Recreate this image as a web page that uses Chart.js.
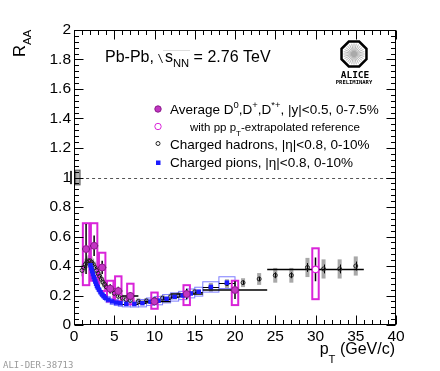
<!DOCTYPE html>
<html>
<head>
<meta charset="utf-8">
<script src="https://cdn.jsdelivr.net/npm/chart.js@4.4.1/dist/chart.umd.min.js"></script>
<style>
html, body { margin: 0; padding: 0; background: #fff; }
#wrap { width: 440px; height: 371px; position: relative; }
</style>
</head>
<body>
<div id="wrap"><canvas id="raaChart" width="440" height="371"></canvas></div>
<script>
// Average D mesons (0-7.5%), bin edges + stat + syst box
const dPt    = [1.5, 2.5, 3.5, 4.5, 5.5, 7, 10, 14, 20];
const dLo    = [1, 2, 3, 4, 5, 6, 8, 12, 16];
const dHi    = [2, 3, 4, 5, 6, 8, 12, 16, 24];
const dR     = [0.515, 0.537, 0.39, 0.246, 0.23, 0.197, 0.16, 0.21, 0.237];
const dStat  = [0.17, 0.07, 0.045, 0.03, 0.03, 0.025, 0.02, 0.035, 0.06];
const dSysLo = [0.27, 0.30, 0.23, 0.16, 0.16, 0.14, 0.11, 0.135, 0.135];
const dSysHi = [0.69, 0.69, 0.49, 0.30, 0.33, 0.28, 0.22, 0.27, 0.30];

// D mesons with pT-extrapolated pp reference
const dxPt    = [30];
const dxLo    = [24];
const dxHi    = [36];
const dxR     = [0.377];
const dxStat  = [0.08];
const dxSysLo = [0.175];
const dxSysHi = [0.52];

// Charged hadrons (0-10%)
const hPt   = [1.0, 1.2, 1.4, 1.6, 1.8, 2.0, 2.2, 2.4, 2.6, 2.8, 3.0, 3.2, 3.4, 3.6, 3.8, 4.0, 4.5, 5.0, 5.5, 6.0,
               6.5, 7.0, 8.0, 9.0, 10, 11, 12, 13, 14, 15, 17, 19, 21, 23, 25, 27, 29, 31, 33, 35];
const hR    = [0.37, 0.39, 0.41, 0.425, 0.435, 0.435, 0.425, 0.41, 0.39, 0.37, 0.35, 0.33, 0.31, 0.29, 0.275, 0.26, 0.235, 0.215, 0.195, 0.182,
               0.172, 0.166, 0.16, 0.163, 0.172, 0.182, 0.192, 0.202, 0.213, 0.225, 0.255, 0.28, 0.287, 0.312, 0.337, 0.337, 0.39, 0.38, 0.38, 0.40];
const hStat = [0.005, 0.005, 0.005, 0.005, 0.005, 0.005, 0.005, 0.005, 0.005, 0.005, 0.005, 0.005, 0.005, 0.005, 0.005, 0.005, 0.005, 0.005, 0.005, 0.005,
               0.005, 0.005, 0.006, 0.006, 0.007, 0.008, 0.008, 0.009, 0.01, 0.01, 0.012, 0.014, 0.015, 0.015, 0.02, 0.02, 0.03, 0.03, 0.03, 0.03];
const hSys  = [0.04, 0.04, 0.04, 0.04, 0.04, 0.04, 0.04, 0.04, 0.04, 0.04, 0.04, 0.035, 0.035, 0.035, 0.035, 0.03, 0.025, 0.025, 0.025, 0.025,
               0.025, 0.025, 0.02, 0.02, 0.02, 0.02, 0.02, 0.02, 0.02, 0.02, 0.03, 0.03, 0.03, 0.04, 0.05, 0.05, 0.065, 0.065, 0.065, 0.065];

// Charged pions (0-10%)
const piPt   = [2.05, 2.15, 2.25, 2.35, 2.45, 2.55, 2.65, 2.75, 2.85, 2.95, 3.1, 3.3, 3.5, 3.7, 3.9, 4.25, 4.75, 5.25, 5.75, 6.5,
                7.5, 8.5, 9.5, 10.5, 11.5, 12.5, 13.5, 14.5, 15.5, 17, 19];
const piHalf = [0.05, 0.05, 0.05, 0.05, 0.05, 0.05, 0.05, 0.05, 0.05, 0.05, 0.1, 0.1, 0.1, 0.1, 0.1, 0.25, 0.25, 0.25, 0.25, 0.5,
                0.5, 0.5, 0.5, 0.5, 0.5, 0.5, 0.5, 0.5, 0.5, 1, 1];
const piR    = [0.405, 0.385, 0.365, 0.345, 0.325, 0.31, 0.295, 0.28, 0.265, 0.255, 0.24, 0.222, 0.207, 0.195, 0.185, 0.172, 0.16, 0.152, 0.147, 0.143,
                0.142, 0.148, 0.158, 0.165, 0.178, 0.19, 0.2, 0.214, 0.226, 0.258, 0.287];
const piSys  = [0.025, 0.025, 0.025, 0.025, 0.025, 0.025, 0.025, 0.025, 0.025, 0.025, 0.022, 0.022, 0.02, 0.02, 0.02, 0.02, 0.02, 0.02, 0.02, 0.02,
                0.02, 0.025, 0.025, 0.028, 0.028, 0.028, 0.028, 0.03, 0.03, 0.035, 0.04];

// Axis ticks
const xMajor = [0, 5, 10, 15, 20, 25, 30, 35, 40];
const yMajor = [0, 0.2, 0.4, 0.6, 0.8, 1, 1.2, 1.4, 1.6, 1.8, 2];

// Colours (ROOT-ish)
const magenta = '#d924d9';
const dFill = '#c236c2';
const blue = '#1a1aff';
const blueBox = '#7c7cff';
const grayBox = '#a8a8a8';
const FONT = '"Liberation Sans", Arial, sans-serif';

// Draws a run of text pieces with sub / superscripts, returns end x
function drawRich(ctx, x, y, parts, size, measureOnly) {
    let cx = x;
    parts.forEach(p => {
        const s = p.sub || p.sup ? size * 0.7 : size;
        const dy = p.sub ? p.off : (p.sup ? -size * 0.42 : 0);
        ctx.font = s + 'px ' + FONT;
        if (!measureOnly) ctx.fillText(p.t, cx, y + dy);
        cx += ctx.measureText(p.t).width;
    });
    return cx;
}

const rootStylePlugin = {
    id: 'rootStyle',
    beforeDatasetsDraw(chart) {
        const { ctx, chartArea: a, scales: { x, y } } = chart;
        const X = v => x.getPixelForValue(v);
        const Y = v => y.getPixelForValue(v);
        ctx.save();

        // normalisation uncertainty boxes around unity
        ctx.fillStyle = '#333';
        ctx.fillRect(X(-0.5), Y(1.045), X(-0.25) - X(-0.5), Y(0.955) - Y(1.045));
        ctx.fillStyle = '#b0b0b0';
        ctx.strokeStyle = '#555';
        ctx.lineWidth = 1;
        ctx.fillRect(X(0.2), Y(1.05), X(0.75) - X(0.2), Y(0.95) - Y(1.05));
        ctx.strokeRect(X(0.2), Y(1.05), X(0.75) - X(0.2), Y(0.95) - Y(1.05));

        ctx.beginPath();
        ctx.rect(a.left, a.top, a.right - a.left, a.bottom - a.top);
        ctx.clip();

        // dashed line at R_AA = 1
        ctx.setLineDash([3, 3]);
        ctx.strokeStyle = '#555';
        ctx.beginPath();
        ctx.moveTo(X(1.5), Math.round(Y(1)) + 0.5);
        ctx.lineTo(a.right, Math.round(Y(1)) + 0.5);
        ctx.stroke();
        ctx.setLineDash([]);

        // charged hadron systematics (filled gray)
        ctx.fillStyle = grayBox;
        hPt.forEach((p, i) => {
            const hw = p < 8 ? 0.1 : 0.25;
            ctx.fillRect(X(p - hw), Y(hR[i] + hSys[i]), X(p + hw) - X(p - hw), Y(hR[i] - hSys[i]) - Y(hR[i] + hSys[i]));
        });
        // hadron stat bars
        ctx.strokeStyle = '#000';
        ctx.lineWidth = 1;
        hPt.forEach((p, i) => {
            ctx.beginPath();
            ctx.moveTo(Math.round(X(p)) + 0.5, Y(hR[i] + hStat[i]));
            ctx.lineTo(Math.round(X(p)) + 0.5, Y(hR[i] - hStat[i]));
            ctx.stroke();
        });

        // pion systematics (open blue)
        ctx.strokeStyle = blueBox;
        ctx.lineWidth = 1;
        piPt.forEach((p, i) => {
            ctx.strokeRect(X(p - piHalf[i]), Y(piR[i] + piSys[i]), X(p + piHalf[i]) - X(p - piHalf[i]), Y(piR[i] - piSys[i]) - Y(piR[i] + piSys[i]));
        });
        // pion x bars
        ctx.strokeStyle = '#000';
        piPt.forEach((p, i) => {
            if (piHalf[i] < 0.5) return;
            ctx.beginPath();
            ctx.moveTo(X(p - piHalf[i]), Math.round(Y(piR[i])) + 0.5);
            ctx.lineTo(X(p + piHalf[i]), Math.round(Y(piR[i])) + 0.5);
            ctx.stroke();
        });

        // D meson systematics (open magenta) and stat / bin-width bars
        const drawD = (pts, lo, hi, r, st, sLo, sHi) => {
            ctx.strokeStyle = magenta;
            ctx.lineWidth = 2;
            pts.forEach((p, i) => {
                ctx.strokeRect(X(p - 0.4), Y(sHi[i]), X(p + 0.4) - X(p - 0.4), Y(sLo[i]) - Y(sHi[i]));
            });
            ctx.strokeStyle = '#000';
            ctx.lineWidth = 1.5;
            pts.forEach((p, i) => {
                ctx.beginPath();
                ctx.moveTo(X(lo[i]), Y(r[i]));
                ctx.lineTo(X(hi[i]), Y(r[i]));
                ctx.moveTo(X(p), Y(r[i] + st[i]));
                ctx.lineTo(X(p), Y(r[i] - st[i]));
                ctx.stroke();
            });
        };
        drawD(dPt, dLo, dHi, dR, dStat, dSysLo, dSysHi);
        drawD(dxPt, dxLo, dxHi, dxR, dxStat, dxSysLo, dxSysHi);
        ctx.restore();
    },
    afterDraw(chart) {
        const { ctx, chartArea: a, scales: { x, y } } = chart;
        const X = v => x.getPixelForValue(v);
        const Y = v => y.getPixelForValue(v);
        ctx.save();

        // frame
        ctx.strokeStyle = '#000';
        ctx.lineWidth = 1;
        const L = a.left + 0.5, R = a.right - 0.5, T = a.top + 0.5, B = a.bottom - 0.5;
        ctx.strokeRect(L, T, R - L, B - T);

        // inward ticks on all four sides
        ctx.beginPath();
        for (let k = 0; k <= 40; k++) {
            const len = k % 5 === 0 ? 9 : 4.5;
            const px = Math.round(X(k)) + 0.5;
            ctx.moveTo(px, B); ctx.lineTo(px, B - len);
            ctx.moveTo(px, T); ctx.lineTo(px, T + len);
        }
        for (let k = 0; k <= 50; k++) {
            const len = k % 5 === 0 ? 9 : 4.5;
            const py = Math.round(Y(k * 0.04)) + 0.5;
            ctx.moveTo(L, py); ctx.lineTo(L + len, py);
            ctx.moveTo(R, py); ctx.lineTo(R - len, py);
        }
        ctx.stroke();

        ctx.fillStyle = '#000';
        ctx.textAlign = 'left';
        ctx.textBaseline = 'alphabetic';

        // y title R_AA (rotated)
        ctx.save();
        ctx.translate(25, 57);
        ctx.rotate(-Math.PI / 2);
        drawRich(ctx, 0, 0, [{ t: 'R' }, { t: 'AA', sub: true, off: 6 }], 16.5);
        ctx.restore();

        // x title p_T (GeV/c)
        const xt = [{ t: 'p' }, { t: 'T', sub: true, off: 9 }, { t: ' (GeV/c)' }];
        const xw = drawRich(ctx, 0, 0, xt, 16, true);
        drawRich(ctx, 395 - xw, 354, xt, 16);

        // collision system label
        ctx.font = '16px ' + FONT;
        ctx.fillText('Pb-Pb,', 105, 62);
        ctx.strokeStyle = '#222';
        ctx.lineWidth = 1;
        ctx.beginPath();
        ctx.moveTo(158.5, 54); ctx.lineTo(162.5, 63);
        ctx.stroke();
        ctx.strokeStyle = '#ddd';
        ctx.beginPath();
        ctx.moveTo(163, 50.5); ctx.lineTo(190, 50.5);
        ctx.stroke();
        drawRich(ctx, 165, 62, [{ t: 's' }, { t: 'NN', sub: true, off: 5 }, { t: ' = 2.76 TeV' }], 16);

        // ALICE logo
        const cx = 354, cy = 54, rr = 13.5;
        ctx.strokeStyle = '#999';
        ctx.lineWidth = 0.7;
        ctx.beginPath();
        for (let k = 0; k < 28; k++) {
            const ang = k * Math.PI * 2 / 28;
            ctx.moveTo(cx + 2 * Math.cos(ang), cy + 2 * Math.sin(ang));
            ctx.lineTo(cx + 10.5 * Math.cos(ang), cy + 10.5 * Math.sin(ang));
        }
        ctx.stroke();
        ctx.fillStyle = '#aaa';
        ctx.beginPath(); ctx.arc(cx, cy, 3, 0, Math.PI * 2); ctx.fill();
        ctx.strokeStyle = '#000';
        ctx.lineWidth = 2.5;
        ctx.beginPath();
        for (let k = 0; k < 8; k++) {
            const ang = Math.PI / 8 + k * Math.PI / 4;
            const px = cx + rr * Math.cos(ang), py = cy + rr * Math.sin(ang);
            if (k === 0) ctx.moveTo(px, py); else ctx.lineTo(px, py);
        }
        ctx.closePath();
        ctx.stroke();
        ctx.fillStyle = '#000';
        ctx.textAlign = 'center';
        ctx.font = 'bold 9.5px "DejaVu Sans Mono", monospace';
        ctx.fillText('ALICE', cx + 1, 77.5);
        ctx.font = 'bold 5.5px "DejaVu Sans Mono", monospace';
        ctx.fillText('PRELIMINARY', cx, 84);
        ctx.textAlign = 'left';

        // legend
        ctx.fillStyle = dFill;
        ctx.strokeStyle = '#8a1a8a';
        ctx.lineWidth = 1;
        ctx.beginPath(); ctx.arc(158, 109, 3.2, 0, Math.PI * 2); ctx.fill(); ctx.stroke();
        ctx.strokeStyle = magenta;
        ctx.fillStyle = '#fff';
        ctx.beginPath(); ctx.arc(158, 126.5, 3.2, 0, Math.PI * 2); ctx.fill(); ctx.stroke();
        ctx.strokeStyle = '#222';
        ctx.beginPath(); ctx.arc(158, 143.5, 2, 0, Math.PI * 2); ctx.stroke();
        ctx.fillStyle = blue;
        ctx.fillRect(156, 160.5, 4.5, 4.5);

        ctx.fillStyle = '#000';
        drawRich(ctx, 170, 113.5, [
            { t: 'Average D' }, { t: '0', sup: true }, { t: ',D' }, { t: '+', sup: true },
            { t: ',D' }, { t: '*+', sup: true }, { t: ', |y|<0.5, 0-7.5%' }
        ], 13.5);
        drawRich(ctx, 190, 130.5, [
            { t: 'with pp p' }, { t: 'T', sub: true, off: 5 }, { t: '-extrapolated reference' }
        ], 11.5);
        drawRich(ctx, 170, 148.5, [{ t: 'Charged hadrons, |\u03b7|<0.8, 0-10%' }], 13.5);
        drawRich(ctx, 170, 167, [{ t: 'Charged pions, |\u03b7|<0.8, 0-10%' }], 13.5);

        // figure id
        ctx.fillStyle = '#9a9a9a';
        ctx.font = '9px "DejaVu Sans Mono", monospace';
        ctx.fillText('ALI-DER-38713', 3, 368);
        ctx.restore();
    }
};

const ctx = document.getElementById('raaChart').getContext('2d');
const raaChart = new Chart(ctx, {
    type: 'scatter',
    data: {
        datasets: [
            { label: 'Average D', data: dPt.map((p, i) => ({ x: p, y: dR[i] })),
              pointStyle: 'circle', pointRadius: 3.5, backgroundColor: dFill, borderColor: '#8a1a8a', borderWidth: 1 },
            { label: 'D extrapolated ref', data: dxPt.map((p, i) => ({ x: p, y: dxR[i] })),
              pointStyle: 'circle', pointRadius: 3.2, backgroundColor: '#fff', borderColor: magenta, borderWidth: 1.2 },
            { label: 'Charged pions', data: piPt.map((p, i) => ({ x: p, y: piR[i] })),
              pointStyle: 'rect', pointRadius: 3.2, backgroundColor: blue, borderColor: blue, borderWidth: 0 },
            { label: 'Charged hadrons', data: hPt.map((p, i) => ({ x: p, y: hR[i] })),
              pointStyle: 'circle', pointRadius: 2, backgroundColor: 'rgba(255,255,255,0)', borderColor: '#222', borderWidth: 1 }
        ]
    },
    options: {
        responsive: false,
        animation: false,
        devicePixelRatio: 1,
        layout: { padding: { left: 0, right: 44, top: 30, bottom: 0 } },
        plugins: { legend: { display: false }, tooltip: { enabled: false } },
        scales: {
            x: {
                type: 'linear', min: 0, max: 40,
                afterFit: s => { s.height = 46; },
                afterBuildTicks: s => { s.ticks = xMajor.map(v => ({ value: v })); },
                grid: { display: false, drawTicks: false },
                border: { display: false },
                ticks: { padding: 2, color: '#000', maxRotation: 0, autoSkip: false,
                         font: { family: FONT, size: 15.5 },
                         callback: v => String(v) }
            },
            y: {
                type: 'linear', min: 0, max: 2,
                afterFit: s => { s.width = 74; },
                afterBuildTicks: s => { s.ticks = yMajor.map(v => ({ value: v })); },
                grid: { display: false, drawTicks: false },
                border: { display: false },
                ticks: { padding: 3, color: '#000', autoSkip: false,
                         font: { family: FONT, size: 15.5 },
                         callback: v => Number.isInteger(v) ? String(v) : v.toFixed(1) }
            }
        }
    },
    plugins: [rootStylePlugin]
});
</script>
</body>
</html>
